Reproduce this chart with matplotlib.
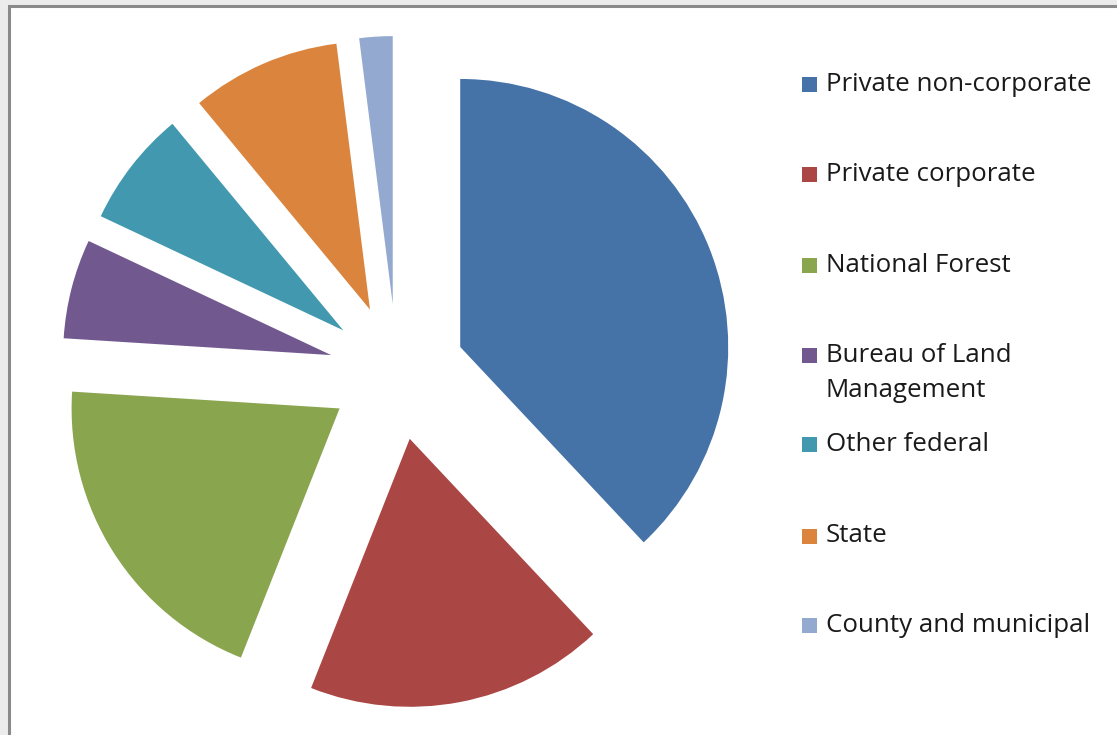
import matplotlib
matplotlib.use('Agg')
import matplotlib.pyplot as plt
from matplotlib.patches import Rectangle

# forest land ownership shares (%)
owners = ['Private non-corporate', 'Private corporate', 'National Forest',
          'Bureau of Land\nManagement', 'Other federal', 'State',
          'County and municipal']
shares = [38, 18, 20, 6, 7, 9, 2]
colors = ['#4572A7', '#AA4643', '#89A54E', '#71588F', '#4198AF', '#DB843D', '#93A9CF']

W, H = 1117, 735
fig = plt.figure(figsize=(W / 100, H / 100), dpi=100, facecolor='#ececec')

ax = fig.add_axes([0, 0, 1, 1])

# chart area with its grey frame
ax.add_patch(Rectangle((9, -10), W, H - 6 + 10, facecolor='white',
                       edgecolor='#8a8a8a', linewidth=2.2, zorder=0))

# exploded pie, every slice pushed out by the same distance (pixels)
radius = 268
ax.pie(shares, colors=colors, startangle=90, counterclock=False,
       center=(397, H - 372), radius=radius,
       explode=[68] * len(shares), frame=True,
       wedgeprops=dict(linewidth=0))
ax.set_xlim(0, W)
ax.set_ylim(0, H)
ax.set_aspect('auto')
ax.axis('off')

# legend drawn by hand, one row every ~90 px
rows_y = [84, 174, 265, 355, 444, 536, 625]
for name, col, yy in zip(owners, colors, rows_y):
    ax.add_patch(Rectangle((802, H - yy - 8), 15, 15, facecolor=col,
                           edgecolor='none', zorder=3))
    for i, line in enumerate(name.split('\n')):
        ax.text(826, H - yy - 35 * i, line, fontsize=18.6, family='Open Sans',
                color='#1a1a1a', va='center', ha='left', zorder=3)

fig.savefig('out.png', dpi=100, facecolor=fig.get_facecolor())
